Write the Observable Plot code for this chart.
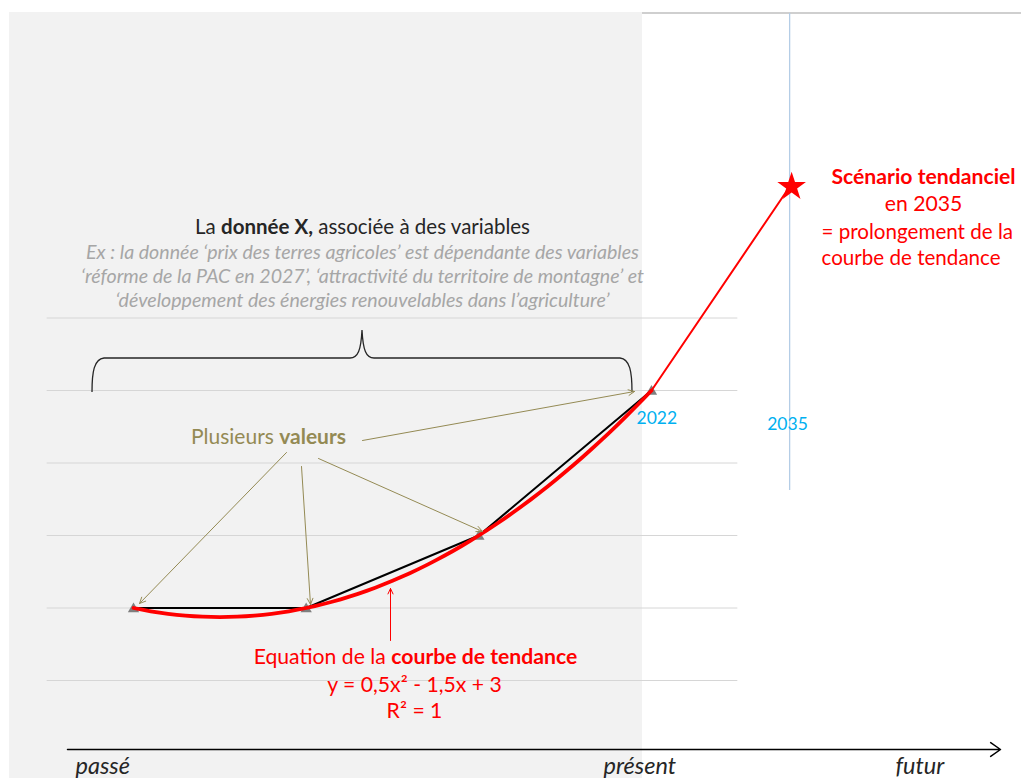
<!DOCTYPE html>
<html><head><meta charset="utf-8">
<script src="https://cdn.jsdelivr.net/npm/d3@7"></script>
<script src="https://cdn.jsdelivr.net/npm/@observablehq/plot@0.6"></script>
<style>body{margin:0;background:#fff;overflow:hidden}</style>
</head><body><div id="chart"></div>
<script>
// ---- data ----
const xIndex = [1, 2, 3, 4];          // observations (past → 2022)
const values = [2, 2, 3, 5];          // "Plusieurs valeurs"
const gridLevels = [1, 2, 3, 4, 5, 6];
const scenarioX = [4.8];              // 2035
const scenarioY = [7.81];             // scenario tendanciel
const yearLabels = ["2022", "2035"];
const timeLabels = ["passé", "présent", "futur"];

const points = xIndex.map((x, i) => ({x, y: values[i]}));

// quadratic least-squares trend fitted on the observations
function fitQuadratic(xs, ys) {
  const S = k => d3.sum(xs, x => x ** k);
  const T = k => d3.sum(xs, (x, i) => ys[i] * x ** k);
  const A = [[S(4), S(3), S(2)], [S(3), S(2), S(1)], [S(2), S(1), S(0)]];
  const b = [T(2), T(1), T(0)];
  for (let i = 0; i < 3; i++) {
    for (let j = i + 1; j < 3; j++) {
      const f = A[j][i] / A[i][i];
      for (let k = i; k < 3; k++) A[j][k] -= f * A[i][k];
      b[j] -= f * b[i];
    }
  }
  const c = [0, 0, 0];
  for (let i = 2; i >= 0; i--) {
    let s = b[i];
    for (let k = i + 1; k < 3; k++) s -= A[i][k] * c[k];
    c[i] = s / A[i][i];
  }
  return c;
}
const [qa, qb, qc] = fitQuadratic(xIndex, values);
const trend = d3.range(xIndex[0], xIndex[3] + 1e-9, 0.05).map(x => ({x, y: qa * x * x + qb * x + qc}));
const extension = [{x: xIndex[3], y: values[3]}, {x: scenarioX[0], y: scenarioY[0]}];

// ---- layout helpers (pixel → data for annotations) ----
const X0 = 133, XU = (651 - 133) / 3, Y0 = 607.5, YU = (607.5 - 390) / 3;
const ix = px => 1 + (px - X0) / XU;
const iy = py => 2 + (Y0 - py) / YU;

const FONT = "Lato, 'Open Sans', sans-serif";
const RED = "#ff0000", OLIVE = "#948a54", BLUE = "#00b0f0", GREY = "#a6a6a6";

const olive = [
  {x1: ix(362), y1: iy(440), x2: ix(634), y2: iy(391)},
  {x1: ix(286), y1: iy(452), x2: ix(139), y2: iy(603)},
  {x1: ix(301), y1: iy(466), x2: ix(310), y2: iy(604)},
  {x1: ix(318), y1: iy(458), x2: ix(482), y2: iy(531)}
];

function T(text, x, y, opts) {
  return Plot.text([text], {x: ix(x), y: iy(y), text: d => d, fontFamily: FONT, ...opts});
}

const chart = Plot.plot({
  width: 1021, height: 778, margin: 0,
  x: {domain: [1, 4], range: [133, 651], axis: null},
  y: {domain: [2, 5], range: [607.5, 390], axis: null},
  style: {background: "#fff", fontFamily: FONT, overflow: "visible"},
  marks: [
    Plot.rect([0], {x1: ix(9), x2: ix(642), y1: iy(12), y2: iy(778), fill: "#f2f2f2"}),
    Plot.ruleY([iy(12.5)], {x1: ix(642), x2: ix(1021), stroke: "#bfbfbf", strokeWidth: 1.5}),
    Plot.ruleX(scenarioX, {y1: iy(13), y2: iy(490), stroke: "#b4cde6", strokeWidth: 1.3}),
    Plot.ruleY(gridLevels, {x1: 0.5, x2: 4.5, stroke: "#d6d6d6", strokeWidth: 1}),
    Plot.arrow([0], {x1: ix(67), x2: ix(1000), y1: iy(749), y2: iy(749), stroke: "#000", strokeWidth: 1.5, headLength: 12, headAngle: 70}),
    // brace
    () => {
      const p = d3.path();
      p.moveTo(92, 392);
      p.bezierCurveTo(92, 372, 94, 359, 104, 358);
      p.lineTo(350, 358);
      p.bezierCurveTo(358, 358, 361, 350, 362, 330);
      p.bezierCurveTo(363, 350, 366, 358, 374, 358);
      p.lineTo(620, 358);
      p.bezierCurveTo(630, 359, 632, 372, 632, 392);
      return d3.create("svg:path").attr("d", p.toString()).attr("fill", "none")
        .attr("stroke", "#262626").attr("stroke-width", 1.3).node();
    },
    Plot.dot(points, {x: "x", y: "y", symbol: "triangle", r: 4.2, fill: "#7f7f7f", dy: 1}),
    Plot.line(points, {x: "x", y: "y", stroke: "#000", strokeWidth: 2}),
    Plot.line(trend, {x: "x", y: "y", stroke: RED, strokeWidth: 3.8}),
    Plot.line(extension, {x: "x", y: "y", stroke: RED, strokeWidth: 2}),
    Plot.dot(scenarioX.map((x, i) => ({x, y: scenarioY[i]})), {x: "x", y: "y", symbol: "star", r: 9, fill: RED, dx: 2}),
    Plot.arrow(olive, {x1: "x1", y1: "y1", x2: "x2", y2: "y2", stroke: OLIVE, strokeWidth: 1, headLength: 10, headAngle: 50}),
    Plot.arrow([0], {x1: ix(390), x2: ix(390), y1: iy(640), y2: iy(588), stroke: RED, strokeWidth: 1, headLength: 9, headAngle: 50}),
    // texts
    T("La **donnée X,** associée à des variables", 362, 227, {fontSize: 20.5, fill: "#262626"}),
    T("Ex : la donnée ‘prix des terres agricoles’ est dépendante des variables", 362, 252, {fontSize: 19.6, fill: GREY, fontStyle: "italic"}),
    T("‘réforme de la PAC en 2027’, ‘attractivité du territoire de montagne’ et", 362, 276, {fontSize: 19.6, fill: GREY, fontStyle: "italic"}),
    T("‘développement des énergies renouvelables dans l’agriculture’", 362, 300, {fontSize: 19.6, fill: GREY, fontStyle: "italic"}),
    T("Plusieurs **valeurs**", 268, 437, {fontSize: 21, fill: OLIVE}),
    T(yearLabels[0], 636, 418, {fontSize: 17.5, fill: BLUE, textAnchor: "start"}),
    T(yearLabels[1], 787, 424, {fontSize: 17.5, fill: BLUE}),
    T("**Scénario tendanciel**", 923, 177, {fontSize: 21.2, fill: RED}),
    T("en 2035", 923, 204, {fontSize: 21.2, fill: RED}),
    T("= prolongement de la", 821, 232, {fontSize: 20.6, fill: RED, textAnchor: "start"}),
    T("courbe de tendance", 821, 258, {fontSize: 20.6, fill: RED, textAnchor: "start"}),
    T("Equation de la **courbe de tendance**", 415, 657, {fontSize: 21.2, fill: RED}),
    T("y = 0,5x² - 1,5x + 3", 414, 685, {fontSize: 21.2, fill: RED}),
    T("R² = 1", 414, 711, {fontSize: 21.2, fill: RED}),
    T(timeLabels[0], 75, 766, {fontSize: 23.5, fill: "#262626", fontStyle: "italic", textAnchor: "start"}),
    T(timeLabels[1], 603, 766, {fontSize: 23.5, fill: "#262626", fontStyle: "italic", textAnchor: "start"}),
    T(timeLabels[2], 895, 766, {fontSize: 23.5, fill: "#262626", fontStyle: "italic", textAnchor: "start"})
  ]
});

// bold segments marked with **
d3.select(chart).selectAll("text").each(function () {
  const t = this.textContent;
  if (!t.includes("**")) return;
  const parts = t.split("**");
  this.textContent = "";
  parts.forEach((s, i) => {
    if (!s) return;
    const ts = document.createElementNS("http://www.w3.org/2000/svg", "tspan");
    ts.textContent = s;
    if (i % 2 === 1) ts.setAttribute("font-weight", "bold");
    this.appendChild(ts);
  });
});
document.getElementById("chart").appendChild(chart);
</script>
</body></html>
